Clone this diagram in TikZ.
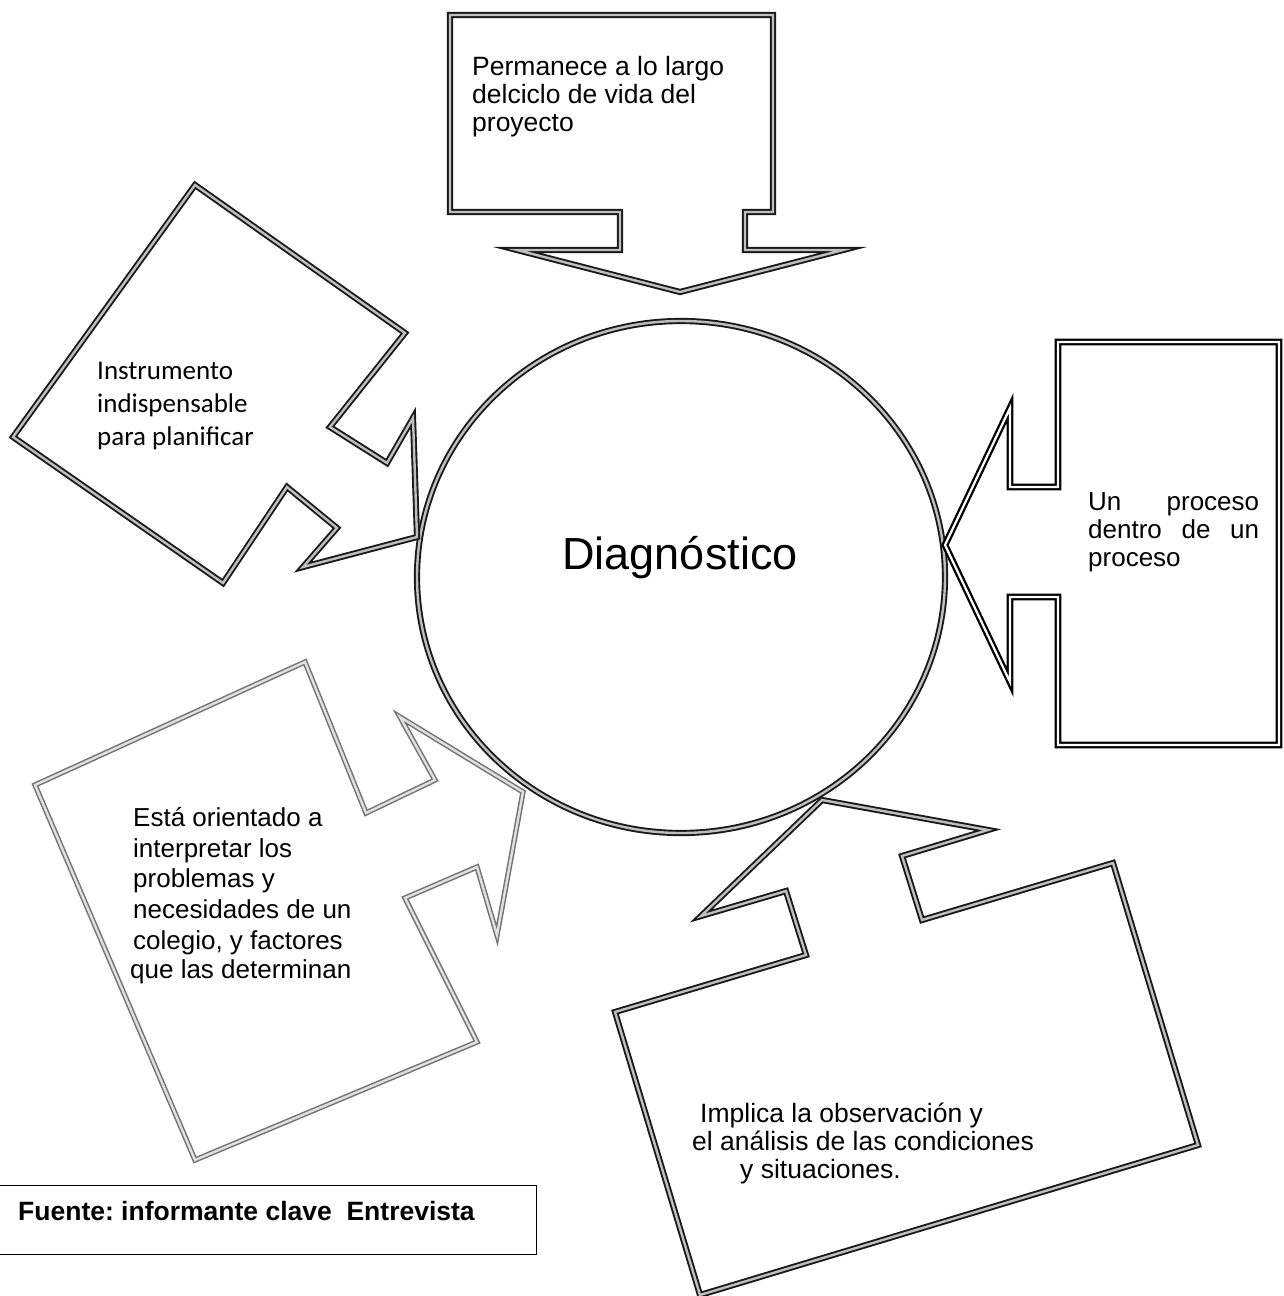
\documentclass[tikz,border=0pt]{standalone}
\usepackage{fontspec}
\setmainfont{Liberation Sans}
\newfontfamily\calibri{Carlito}

\tikzset{
  marco/.style={draw=black!90, line width=1.9pt, double=black!25, double distance=2.4pt, line join=miter, miter limit=25},
  marcogris/.style={marco, draw=black!55, line width=1.5pt, double=black!12},
  marcogrueso/.style={marco, draw=black, line width=2.3pt, double=white, double distance=2.2pt},
  texto/.style={inner sep=0pt, anchor=north west, align=left},
  letra/.style={font=\fontsize{26.5}{28}\selectfont},
}

\begin{document}
\frenchspacing
\begin{tikzpicture}[x=1pt,y=-1pt]
        \useasboundingbox (0,0) rectangle (1283,1296);

        % Circulo central
        \draw[marco] (681,577) ellipse (264 and 256);
        \node[anchor=base, inner sep=0pt, font=\fontsize{45}{54}\selectfont] (diag) at (680,569) {Diagnóstico};

        % Llamada superior
        \draw[marco] (450,15) -- (773,15) -- (773,212) -- (745,212) -- (745,250) -- (843,250) -- (680,292)
                -- (517,250) -- (620,250) -- (620,212) -- (450,212) -- cycle;
        \node[texto, letra] (perm) at (472,56) {Permanece a lo largo\\delciclo de vida del\\proyecto};

        % Llamada izquierda
        \draw[marco] (195,185) -- (405,333) -- (330,427) -- (387,463) -- (413,418) -- (417,537)
                -- (303,567) -- (337,528) -- (287,487) -- (223,583) -- (13,437) -- cycle;
        \node[texto, font=\calibri\fontsize{27}{33}\selectfont] (instr) at (97,362) {Instrumento\\indispensable\\para planificar};

        % Llamada derecha
        \draw[marcogrueso] (1058,342) -- (1279,342) -- (1279,745) -- (1058,745) -- (1058,597) -- (1010,597)
                -- (1010,682) -- (945,545) -- (1010,408) -- (1010,487) -- (1058,487) -- cycle;
        \node[texto, text width=171pt, align=justify, font=\fontsize{26}{28.3}\selectfont] (proc) at (1088,492)
                {Un proceso dentro de un proceso};

        % Llamada inferior izquierda
        \draw[marcogris] (35,785) -- (305,662) -- (366,813) -- (435,780) -- (400,717) -- (523,792)
                -- (497,935) -- (477,867) -- (405,898) -- (477,1042) -- (195,1160) -- cycle;
        \node[texto, font=\fontsize{26}{30.7}\selectfont] (orient) at (133,807)
                {Está orientado a\\interpretar los\\problemas y\\necesidades de un\\colegio, y factores\\[-1pt]\hspace*{-3pt}que las determinan};

        % Llamada inferior derecha
        \draw[marco] (615,1012) -- (806,955) -- (786,891) -- (701,916) -- (822,800) -- (988,830)
                -- (902,856) -- (922,920) -- (1113,863) -- (1198,1145) -- (700,1295) -- cycle;
        \node[texto, letra] (impl) at (692,1103)
                {\hspace*{8pt}Implica la observación y\\el análisis de las condiciones\\\hspace*{48pt}y situaciones.};

        % Fuente
        \draw[line width=1pt] (-2,1185) rectangle (536,1254);
        \node[anchor=base west, inner sep=0pt, font=\bfseries\fontsize{26.5}{30}\selectfont] (fuente) at (18,1220)
                {Fuente: informante clave\ \ Entrevista};
    \end{tikzpicture}
\end{document}
